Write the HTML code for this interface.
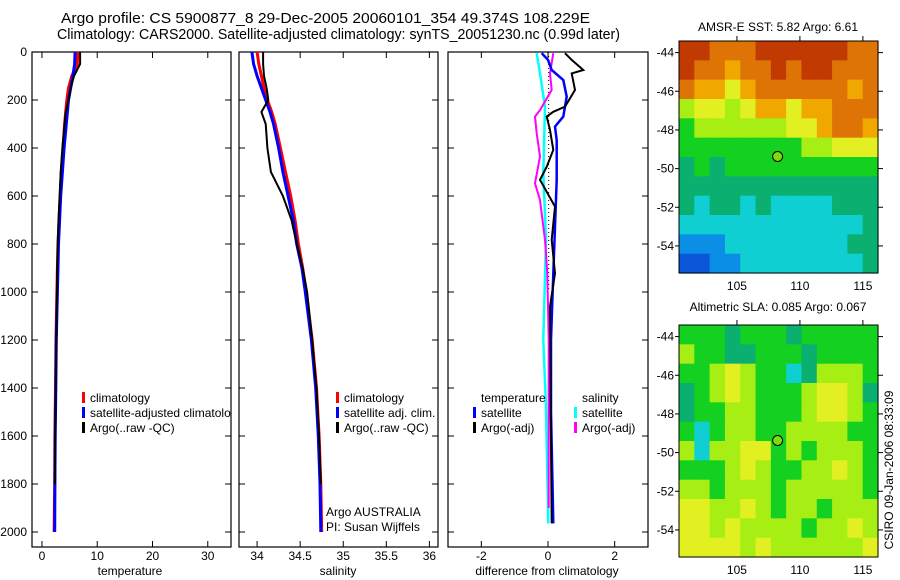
<!DOCTYPE html>
<html><head><meta charset="utf-8"><style>
body{margin:0;background:#fff;}
svg{display:block;font-family:"Liberation Sans",sans-serif;}
</style></head><body>
<svg id="fig" width="900" height="580" viewBox="0 0 900 580">
<defs><clipPath id="clip1"><rect x="32" y="52" width="199" height="495"/></clipPath></defs>
<rect width="900" height="580" fill="#fff"/>
<text x="61" y="23" font-size="14.5" textLength="529" lengthAdjust="spacingAndGlyphs">Argo profile: CS 5900877_8 29-Dec-2005 20060101_354 49.374S 108.229E</text>
<text x="57" y="39" font-size="14.5" textLength="563" lengthAdjust="spacingAndGlyphs">Climatology: CARS2000. Satellite-adjusted climatology: synTS_20051230.nc (0.99d later)</text>
<text x="778" y="31" font-size="12" text-anchor="middle">AMSR-E SST: 5.82 Argo: 6.61</text>
<text x="778" y="311" font-size="12" text-anchor="middle">Altimetric SLA: 0.085 Argo: 0.067</text>
<text transform="translate(893,470) rotate(-90)" font-size="12" text-anchor="middle">CSIRO 09-Jan-2006 08:33:09</text>
<text x="130" y="575" font-size="12" text-anchor="middle">temperature</text>
<text x="338" y="575" font-size="12" text-anchor="middle">salinity</text>
<text x="547" y="575" font-size="12" text-anchor="middle">difference from climatology</text>
<text x="326" y="516" font-size="12">Argo AUSTRALIA</text>
<text x="326" y="531" font-size="12">PI: Susan Wijffels</text>
<g id="plots"></g>
</svg>
<script>
// ---- data ----
const depths = [0,50,100,150,200,250,300,400,500,600,700,800,900,1000,1200,1400,1600,1800,2000];
const tClim = [6.5,6.4,5.4,4.8,4.5,4.3,4.1,3.8,3.5,3.3,3.1,2.9,2.8,2.7,2.55,2.45,2.35,2.3,2.2];
const tSat  = [6.0,5.9,5.6,5.2,4.8,4.6,4.4,4.0,3.7,3.4,3.2,3.0,2.9,2.8,2.6,2.5,2.4,2.35,2.3];
const tArgo = [6.9,6.9,5.8,5.2,4.8,4.3,4.1,3.7,3.4,3.2,3.0,2.85,2.75,2.7,2.6,2.5,2.4,2.35,2.3];
const sClim = [34.0,34.02,34.05,34.08,34.12,34.17,34.21,34.27,34.33,34.39,34.44,34.48,34.53,34.57,34.64,34.69,34.72,34.74,34.75];
const sSat  = [33.94,33.96,34.0,34.05,34.1,34.15,34.19,34.25,34.3,34.36,34.42,34.46,34.52,34.56,34.63,34.68,34.71,34.73,34.74];
const sArgo = [34.07,34.07,34.08,34.11,34.13,34.05,34.1,34.12,34.16,34.3,34.4,34.46,34.53,34.58,34.64,34.69,34.72,34.74,34.75];
const dTArgoDepth = [5,33,75,89,158,228,249,269,325,408,478,533,644,783,922,1061,1500,1964];
const dTArgo = [0.51,0.71,1.06,0.71,0.81,0.51,0.16,-0.04,0.06,0.16,-0.04,-0.24,0.21,0.11,0.21,0.06,0.08,0.11];
const dTSatDepth = [5,33,75,117,186,269,311,367,533,922,1200,1500,1964];
const dTSat = [-0.19,0,0.11,0.46,0.56,0.46,0.21,0.26,0.26,0.16,0.09,0.09,0.16];
const dSSatDepth = [5,89,228,505,783,1200,1478,1964];
const dSSat = [-0.34,-0.24,-0.09,-0.14,-0.06,-0.14,-0.06,0.01];
const dSArgoDepth = [5,89,158,242,269,339,436,547,617,783,922,1200,1755,1900];
const dSArgo = [0.16,0.06,0.11,-0.24,-0.39,-0.34,-0.24,-0.39,-0.24,-0.09,-0.02,0.02,0.02,0.02];
const depthTicks = [0,200,400,600,800,1000,1200,1400,1600,1800,2000];
const tempTicks = [0,10,20,30];
const salTicks = [34,34.5,35,35.5,36];
const salTickLabels = ["34","34.5","35","35.5","36"];
const diffTicks = [-2,0,2];
const lonTicks = [105,110,115];
const latTicks = [-44,-46,-48,-50,-52,-54];
const sstGrid = [
"9988899999988","9887889899888","8776788888878","5665677677888",
"4555555667887","4444444455666","3434444444444","3333333333333",
"3233232222333","2222222222223","1112222222233","0011222222223"];
const slaGrid = [
"4443444344444","5443344434444","4456544235554","3456544456653",
"3445544456654","4245544555544","5255664545554","4445654455654",
"5545554555554","6655654554555","6656555545565","6666565555556"];
const palette = ["#0a55d8","#0a8ee6","#10cfd2","#0bb070","#14d020","#a6ee14","#e2f022","#f0a800","#df7406","#c03a02"];
// ---- helpers ----
const NS="http://www.w3.org/2000/svg";
const root=document.getElementById('plots');
function mk(tag,attrs,parent){const e=document.createElementNS(NS,tag);for(const k in attrs)e.setAttribute(k,attrs[k]);(parent||root).appendChild(e);return e;}
const yD = d => 52 + d*0.24;
function panel(x0,x1,dom,ticks,labels,name){
  const g=mk('g',{});
  
  
  const sx=v=>x0+(v-dom[0])/(dom[1]-dom[0])*(x1-x0);
  const frame=mk('rect',{x:x0,y:52,width:x1-x0,height:495,fill:'none',stroke:'#000','stroke-width':1.2},g);
  
  
  ticks.forEach((t,i)=>{
    const x=sx(t);
    mk('line',{x1:x,x2:x,y1:52,y2:58,stroke:'#000'},g);
    mk('line',{x1:x,x2:x,y1:547,y2:541,stroke:'#000'},g);
    const tl=mk('text',{x:x,y:560,'font-size':12,'text-anchor':'middle'},g);
    tl.textContent=labels[i];
    
    
  });
  depthTicks.forEach(d=>{
    const y=yD(d);
    mk('line',{x1:x0,x2:x0+6,y1:y,y2:y,stroke:'#000'},g);
    mk('line',{x1:x1,x2:x1-6,y1:y,y2:y,stroke:'#000'},g);
  });
  return {g,sx};
}
function line(p,xs,ds,color,w,name){
  const pts=xs.map((v,i)=>p.sx(v).toFixed(1)+','+yD(ds[i]).toFixed(1)).join(' ');
  const l=mk('polyline',{points:pts,fill:'none',stroke:color,'stroke-width':w,'stroke-linejoin':'miter'},p.g);
  
  
}
function legend(g,x,y,color,label,name){
  if(color) mk('rect',{x:x,y:y-9,width:3,height:11,fill:color},g);
  const t=mk('text',{x:x+8,y:y+1,'font-size':12},g);
  t.textContent=label;
  
  
}
// depth axis labels
depthTicks.forEach(d=>{
  const t=mk('text',{x:27,y:yD(d)+4,'font-size':12,'text-anchor':'end'});
  t.textContent=d;
  
  
});
// panel 1 temperature
const p1=panel(32,231,[-1.8,34.2],tempTicks,tempTicks.map(String),'temperature-panel');
line(p1,tClim,depths,'#f00',3,'temp-climatology-line');
line(p1,tSat,depths,'#00f',3,'temp-satellite-line');
line(p1,tArgo.slice(0,18),depths.slice(0,18),'#000',2,'temp-argo-line');
const lg1=mk('g',{'clip-path':'url(#clip1)'},p1.g);


legend(lg1,82,401,'#f00','climatology','legend-climatology');
legend(lg1,82,416,'#00f','satellite-adjusted climatology','legend-satellite-adjusted');
legend(lg1,82,431,'#000','Argo(..raw -QC)','legend-argo');
// panel 2 salinity
const p2=panel(239,438,[33.79,36.1],salTicks,salTickLabels,'salinity-panel');
line(p2,sClim,depths,'#f00',3,'sal-climatology-line');
line(p2,sSat,depths,'#00f',3,'sal-satellite-line');
line(p2,sArgo.slice(0,18),depths.slice(0,18),'#000',2,'sal-argo-line');
legend(p2.g,336,401,'#f00','climatology','legend-sal-climatology');
legend(p2.g,336,416,'#00f','satellite adj. clim.','legend-sal-satellite');
legend(p2.g,336,431,'#000','Argo(..raw -QC)','legend-sal-argo');
// panel 3 differences
const p3=panel(448,648,[-3,3],diffTicks,diffTicks.map(String),'difference-panel');
mk('line',{x1:p3.sx(0.02),x2:p3.sx(0.02),y1:yD(0),y2:yD(1000),stroke:'#000','stroke-dasharray':'1,3'},p3.g);
line(p3,dSSat,dSSatDepth,'#0ff',2.5,'diff-sal-satellite-line');
line(p3,dSArgo,dSArgoDepth,'#f0f',2,'diff-sal-argo-line');
line(p3,dTSat,dTSatDepth,'#00f',2.5,'diff-temp-satellite-line');
line(p3,dTArgo,dTArgoDepth,'#000',2,'diff-temp-argo-line');
legend(p3.g,473,401,null,'temperature','legend-temperature-header');
legend(p3.g,473,416,'#00f','satellite','legend-temp-satellite');
legend(p3.g,473,431,'#000','Argo(-adj)','legend-temp-argo');
legend(p3.g,574,401,null,'salinity','legend-salinity-header');
legend(p3.g,574,416,'#0ff','satellite','legend-sal-satellite-diff');
legend(p3.g,574,431,'#f0f','Argo(-adj)','legend-sal-argo-diff');
// maps
function map(y0,grid,name){
  const x0=679,x1=878,y1=y0+232,lon0=100.4,lon1=116.2,lat0=-43.4,lat1=-55.4;
  const g=mk('g',{});
  
  
  const rows=grid.length,cols=grid[0].length;
  const cw=(x1-x0)/cols,ch=(y1-y0)/rows;
  grid.forEach((r,i)=>{for(let j=0;j<cols;j++){
    const c=mk('rect',{x:(x0+j*cw).toFixed(2),y:(y0+i*ch).toFixed(2),width:(cw+0.6).toFixed(2),height:(ch+0.6).toFixed(2),fill:palette[+r[j]]},g);
    
    
  }});
  const sx=v=>x0+(v-lon0)/(lon1-lon0)*(x1-x0);
  const sy=v=>y0+(v-lat0)/(lat1-lat0)*(y1-y0);
  mk('rect',{x:x0,y:y0,width:x1-x0,height:y1-y0,fill:'none',stroke:'#000'},g);
  lonTicks.forEach(t=>{
    const x=sx(t);
    mk('line',{x1:x,x2:x,y1:y0-5,y2:y0,stroke:'#000'},g);
    const tl=mk('text',{x:x,y:y1+17,'font-size':12,'text-anchor':'middle'},g);
    tl.textContent=t;
    
    
  });
  latTicks.forEach(t=>{
    const y=sy(t);
    mk('line',{x1:x1,x2:x1+5,y1:y,y2:y,stroke:'#000'},g);
    mk('line',{x1:x0-4,x2:x0,y1:y,y2:y,stroke:'#000'},g);
    const tl=mk('text',{x:674,y:y+4,'font-size':12,'text-anchor':'end'},g);
    tl.textContent=t;
    
    
  });
  const m=mk('circle',{cx:sx(108.229),cy:sy(-49.374),r:5,fill:'#7ddc10',stroke:'#000'},g);
  
  
}
map(41,sstGrid,'sst-map');
map(325,slaGrid,'sla-map');
</script>
</body></html>
